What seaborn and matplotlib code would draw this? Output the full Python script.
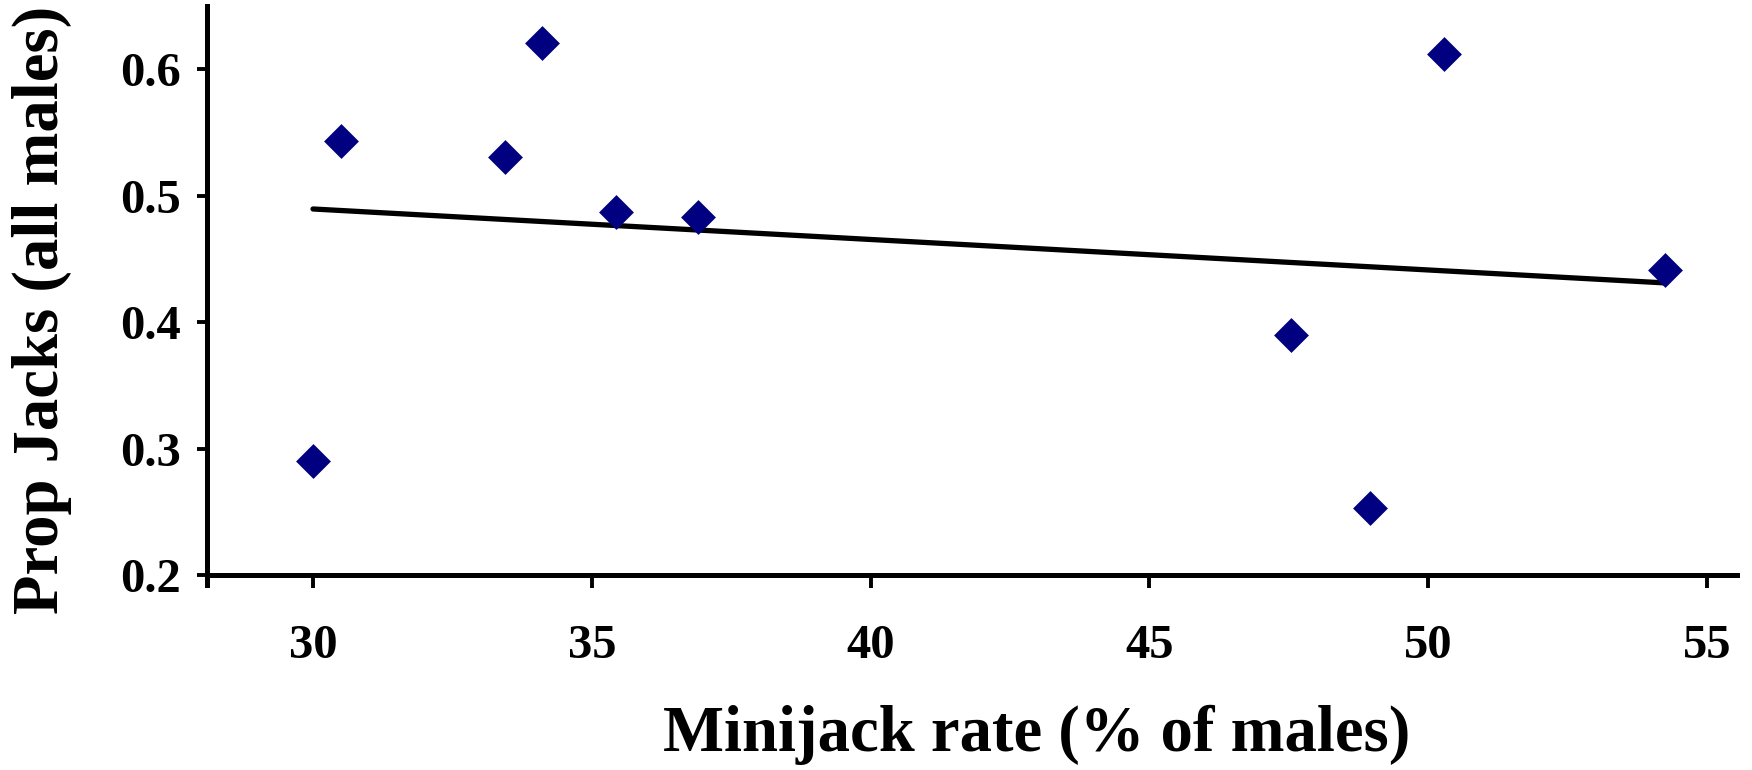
import numpy as np
import pandas as pd
import seaborn as sns
import matplotlib
matplotlib.use("Agg")
import matplotlib.pyplot as plt

# Data
minijack_rate = [30.0, 30.5, 33.45, 34.1, 35.44, 36.9, 47.55, 48.95, 50.28, 54.25]
prop_jacks = [0.290, 0.543, 0.531, 0.621, 0.487, 0.483, 0.390, 0.253, 0.612, 0.441]
x_ticks = [30, 35, 40, 45, 50, 55]
y_ticks = [0.2, 0.3, 0.4, 0.5, 0.6]
y_tick_labels = ["0.2", "0.3", "0.4", "0.5", "0.6"]

df = pd.DataFrame({"x": minijack_rate, "y": prop_jacks})

sns.set_style("white")
plt.rcParams["font.family"] = ["Liberation Serif", "DejaVu Serif"]
plt.rcParams["font.weight"] = "bold"
plt.rcParams["text.color"] = "black"
plt.rcParams["axes.labelcolor"] = "black"

fig = plt.figure(figsize=(17.52, 7.70), dpi=100)
ax = fig.add_axes([0.1182, 0.2532, 0.9914 - 0.1182, 0.992 - 0.2532])

sns.regplot(data=df, x="x", y="y", ax=ax, ci=None, truncate=True, marker="D",
            scatter_kws=dict(s=315, color="#000080", alpha=1, linewidths=0, zorder=3),
            line_kws=dict(color="black", lw=3.8, zorder=2))

ax.set_xlim(28.1, 55.54)
ax.set_ylim(0.2, 0.65)
ax.set_xticks(x_ticks)
ax.set_xticklabels([str(t) for t in x_ticks])
ax.set_yticks(y_ticks)
ax.set_yticklabels(y_tick_labels)

for s in ["top", "right"]:
    ax.spines[s].set_visible(False)
for s in ["left", "bottom"]:
    ax.spines[s].set_linewidth(3.6)
    ax.spines[s].set_color("black")
ax.spines["left"].set_bounds(0.192, 0.65)

ax.tick_params(axis="x", direction="out", length=9, width=2.8, pad=26,
               labelsize=35, colors="black", bottom=True)
ax.tick_params(axis="y", direction="out", length=7, width=2.8, pad=12,
               labelsize=35, colors="black", left=True)
for lbl in ax.get_xticklabels() + ax.get_yticklabels():
    lbl.set_fontweight("bold")

ax.set_xlabel("Minijack rate (% of males)", fontsize=46.5, fontweight="bold", color="black")
ax.set_ylabel("Prop Jacks (all males)", fontsize=46.5, fontweight="bold", color="black")
ax.xaxis.set_label_coords(0.542, -0.228)
ax.yaxis.set_label_coords(-0.088, 0.466)

fig.savefig("out.png", dpi=100)
